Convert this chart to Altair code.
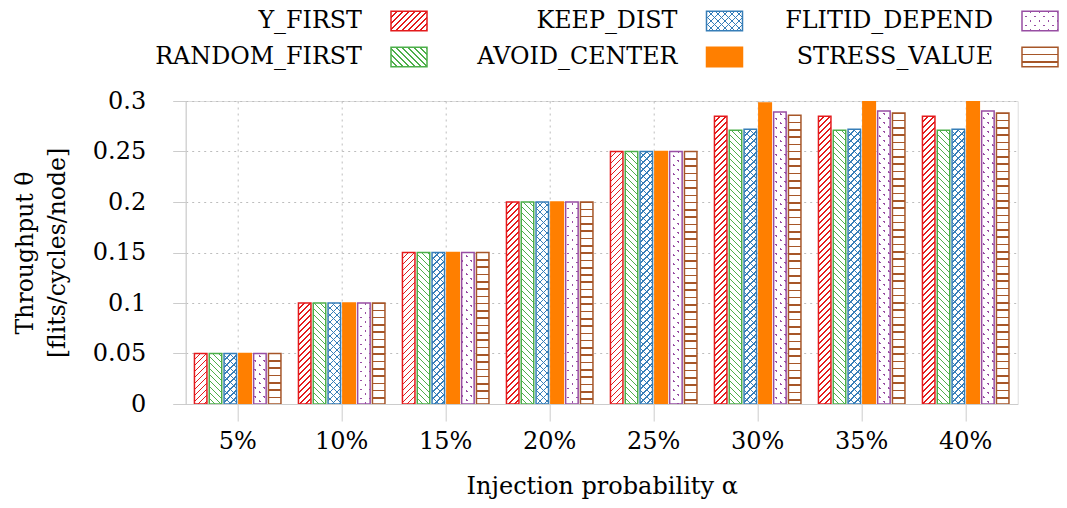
import math
import altair as alt

# ---------------- data ----------------
categories = ["5%", "10%", "15%", "20%", "25%", "30%", "35%", "40%"]
series = ["Y_FIRST", "RANDOM_FIRST", "KEEP_DIST", "AVOID_CENTER", "FLITID_DEPEND", "STRESS_VALUE"]
colors = ["#e41a1c", "#4daf4a", "#377eb8", "#ff7f00", "#984ea3", "#a65628"]
patterns = ["diag_up", "diag_down", "cross", "solid", "dots", "hlines"]

y_first = [0.05, 0.10, 0.15, 0.20, 0.25, 0.285, 0.285, 0.285]
random_first = [0.05, 0.10, 0.15, 0.20, 0.25, 0.271, 0.271, 0.271]
keep_dist = [0.05, 0.10, 0.15, 0.20, 0.25, 0.272, 0.272, 0.272]
avoid_center = [0.05, 0.10, 0.15, 0.20, 0.25, 0.298, 0.301, 0.301]
flitid_depend = [0.05, 0.10, 0.15, 0.20, 0.25, 0.289, 0.290, 0.290]
stress_value = [0.05, 0.10, 0.15, 0.20, 0.25, 0.286, 0.288, 0.288]
series_values = [y_first, random_first, keep_dist, avoid_center, flitid_depend, stress_value]

y_ticks = [0, 0.05, 0.1, 0.15, 0.2, 0.25, 0.3]
x_title = "Injection probability α"
y_title = ["Throughput θ", "[flits/cycles/node]"]

# ---------------- layout / style ----------------
FONT = "DejaVu Serif"
PLOT_W, PLOT_H = 832, 303
Y_MAX = 0.3
BAND = PLOT_W / len(categories)
PAD_IN, PAD_OUT = 0.155, 0.591
STEP = BAND / (len(series) - PAD_IN + 2 * PAD_OUT)
BAR_W = STEP * (1 - PAD_IN)
SW_SIZE = 1296                      # legend swatch: 36 x 19.4 px
SW_SHAPE = "M-1,-0.539H1V0.539H-1Z"
SW_W, SW_H = 36, 19.4
WHITE = "#ffffff"
CLEAR = "rgba(255,255,255,0)"
FRAME = "#cccccc"
GRID = "#bdbdbd"


def stripe_stops(length, period, thick, fg, bg):
    pts = []
    k = 0
    while True:
        c = k * period
        a = max(0.0, c - thick / 2)
        b = min(length, c + thick / 2)
        if a >= length:
            break
        if b > a:
            pts += [(a, bg), (a, fg), (b, fg), (b, bg)]
        k += 1
    stops = [{"offset": 0, "color": bg}]
    stops += [{"offset": round(p / length, 5), "color": col} for p, col in pts]
    stops.append({"offset": 1, "color": bg})
    return stops


def diag(w, h, up, fg, bg, period, thick):
    c = (w + h) / (w * w + h * h)
    if up:
        g = {"x1": 0, "y1": 0, "x2": c * w, "y2": c * h}
    else:
        g = {"x1": 0, "y1": 1, "x2": c * w, "y2": 1 - c * h}
    g["gradient"] = "linear"
    g["stops"] = stripe_stops(w + h, period, thick * math.sqrt(2), fg, bg)
    return g


def hlines(h, fg, bg, period, thick):
    return {"gradient": "linear", "x1": 0, "y1": 0, "x2": 0, "y2": 1,
            "stops": stripe_stops(h, period, thick, fg, bg)}


def fills(pattern, color, w, h):
    if pattern == "solid":
        return color, CLEAR
    if pattern == "diag_up":
        return diag(w, h, True, color, WHITE, 6.0, 1.0), CLEAR
    if pattern == "diag_down":
        return diag(w, h, False, color, WHITE, 6.0, 1.0), CLEAR
    if pattern == "cross":
        return (diag(w, h, True, color, WHITE, 7.0, 1.0),
                diag(w, h, False, color, CLEAR, 7.0, 1.0))
    if pattern == "dots":
        return (diag(w, h, True, color, WHITE, 9.0, 1.8),
                diag(w, h, False, CLEAR, WHITE, 9.0, 1.8))
    return hlines(h, color, WHITE, 7.3, 1.6), CLEAR


rows = []
for si, name in enumerate(series):
    for ci, cat in enumerate(categories):
        v = series_values[si][ci]
        h = max(min(v, Y_MAX) / Y_MAX * PLOT_H, 1.0)
        g1, g2 = fills(patterns[si], colors[si], BAR_W, h)
        rows.append({"category": cat, "series": name, "value": v, "g1": g1, "g2": g2})

leg_rows = []
for si, name in enumerate(series):
    g1, g2 = fills(patterns[si], colors[si], SW_W, SW_H)
    leg_rows.append({"series": name, "col": si // 2, "row": si % 2, "g1": g1, "g2": g2})

color_scale = alt.Scale(domain=series, range=colors)

x_enc = alt.X(
    "category:N", sort=categories,
    scale=alt.Scale(paddingInner=0, paddingOuter=0),
    axis=alt.Axis(title=x_title, grid=True, bandPosition=0.5, labelAngle=0,
                  gridDash=[2, 4], gridColor=GRID, domainColor=FRAME, tickColor=FRAME,
                  tickSize=17, labelPadding=8, labelFont=FONT, labelFontSize=24,
                  labelColor="black", titleFont=FONT, titleFontSize=24,
                  titleFontWeight="normal", titleColor="black", titlePadding=21),
)
xoff = alt.XOffset("series:N", sort=series,
                   scale=alt.Scale(paddingInner=PAD_IN, paddingOuter=PAD_OUT))
y_enc = alt.Y(
    "value:Q", scale=alt.Scale(domain=[0, Y_MAX], nice=False, zero=True),
    axis=alt.Axis(values=y_ticks, format="~g", title=y_title, grid=True,
                  gridDash=[2, 4], gridColor=GRID, domainColor=FRAME, tickColor=FRAME,
                  tickSize=13, labelPadding=27, labelFont=FONT, labelFontSize=24,
                  labelColor="black", titleFont=FONT, titleFontSize=23.5,
                  titleFontWeight="normal", titleColor="black", titleLineHeight=32,
                  titlePadding=23),
)

base = alt.Chart(alt.Data(values=rows)).encode(x=x_enc, xOffset=xoff, y=y_enc)
fill1 = base.mark_bar(clip=True, strokeWidth=0).encode(fill=alt.Fill("g1:N", scale=None))
fill2 = base.mark_bar(clip=True, strokeWidth=0).encode(fill=alt.Fill("g2:N", scale=None))
outline = base.mark_bar(clip=True, fillOpacity=0, strokeWidth=1.5).encode(
    stroke=alt.Stroke("series:N", scale=color_scale, legend=None))
main = alt.layer(fill1, fill2, outline)

leg = alt.Chart(alt.Data(values=leg_rows)).encode(
    x=alt.X("col:O", scale=alt.Scale(type="point", range=[223.3, 854.3], padding=0), axis=None),
    y=alt.Y("row:O", scale=alt.Scale(type="point", range=[-80, -44], padding=0), axis=None),
)
sw1 = leg.mark_point(shape=SW_SHAPE, size=SW_SIZE, filled=True, opacity=1, strokeWidth=0).encode(
    fill=alt.Fill("g1:N", scale=None))
sw2 = leg.mark_point(shape=SW_SHAPE, size=SW_SIZE, filled=True, opacity=1, strokeWidth=0).encode(
    fill=alt.Fill("g2:N", scale=None))
sw3 = leg.mark_point(shape=SW_SHAPE, size=SW_SIZE, filled=False, opacity=1, strokeWidth=1.5).encode(
    stroke=alt.Stroke("series:N", scale=color_scale, legend=None))
txt = leg.mark_text(align="right", baseline="middle", dx=-47, font=FONT, fontSize=23.8,
                    color="black").encode(text="series:N")
legend = alt.layer(sw1, sw2, sw3, txt)

chart = (
    alt.layer(main, legend)
    .resolve_scale(x="independent", y="independent")
    .properties(width=PLOT_W, height=PLOT_H,
                autosize=alt.AutoSizeParams(type="none"),
                padding={"left": 177.7, "top": 93, "right": 41.3, "bottom": 96})
    .configure_view(stroke=FRAME, strokeWidth=1)
    .configure(background="white")
)

chart.save("out.html", embed_options={"renderer": "svg", "actions": False})
